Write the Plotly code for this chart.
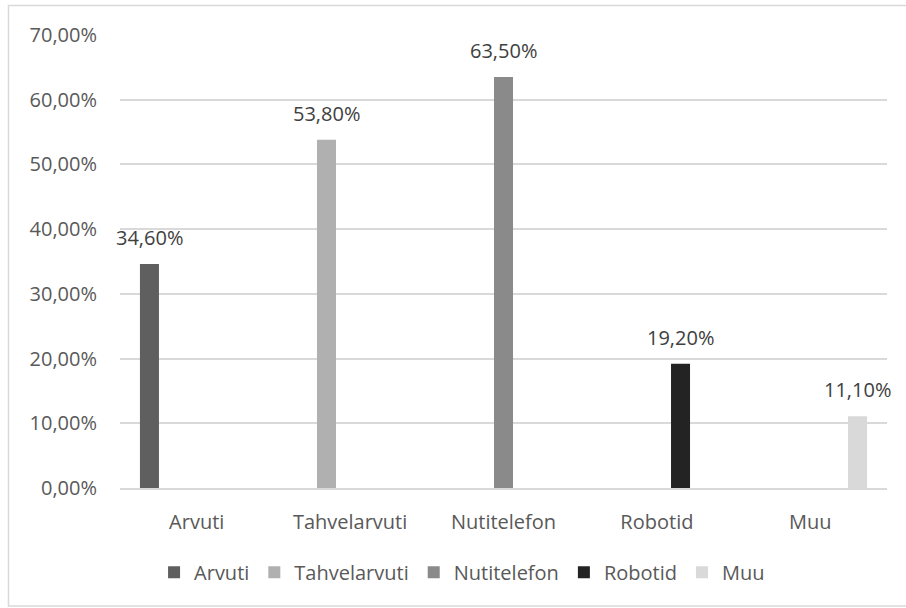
import plotly.graph_objects as go

# Survey shares per device type
categories = ["Arvuti", "Tahvelarvuti", "Nutitelefon", "Robotid", "Muu"]
values = [0.346, 0.538, 0.635, 0.192, 0.111]
colors = ["#5f5f5f", "#b0b0b0", "#8a8a8a", "#232323", "#d9d9d9"]
y_ticks = [0, 0.1, 0.2, 0.3, 0.4, 0.5, 0.6, 0.7]

FONT = "Open Sans"
FONT_SIZE = 20
TEXT_COLOR = "#595959"
BARGAP = 0.23
BARGROUPGAP = 0.195

n = len(categories)
positions = list(range(n))
slot = (1 - BARGAP) / n  # width of one series slot inside a category group

fig = go.Figure()
annotations = []
for i, (name, val, col) in enumerate(zip(categories, values, colors)):
    # each series only carries its own category, the other slots stay empty
    ys = [val if j == i else None for j in range(n)]
    fig.add_trace(go.Bar(
        name=name,
        x=positions,
        y=ys,
        marker=dict(color=col, line=dict(width=0)),
        hoverinfo="skip",
    ))
    # value label above the bar, centred on its slot
    annotations.append(dict(
        x=positions[i] + (i - (n - 1) / 2) * slot,
        y=val,
        xref="x", yref="y",
        text=f"{val * 100:.2f}%".replace(".", ","),
        showarrow=False,
        yanchor="bottom",
        yshift=11,
        font=dict(family=FONT, size=FONT_SIZE, color="#404040"),
    ))

fig.update_layout(
    width=906,
    height=608,
    margin=dict(l=120, r=19, t=35, b=120),
    paper_bgcolor="white",
    plot_bgcolor="white",
    barmode="group",
    bargap=BARGAP,
    bargroupgap=BARGROUPGAP,
    separators=", ",
    font=dict(family=FONT, size=FONT_SIZE, color=TEXT_COLOR),
    showlegend=True,
    annotations=annotations,
    legend=dict(
        orientation="h",
        xref="container",
        x=0.51,
        xanchor="center",
        yref="container",
        y=0.059,
        yanchor="middle",
        font=dict(family=FONT, size=FONT_SIZE, color=TEXT_COLOR),
        itemwidth=30,
        traceorder="normal",
    ),
    xaxis=dict(
        range=[-0.5, n - 0.5],
        tickvals=positions,
        ticktext=categories,
        showgrid=False,
        showline=True,
        linecolor="#d9d9d9",
        linewidth=1.5,
        ticks="",
        ticklabelstandoff=15,
        tickfont=dict(family=FONT, size=FONT_SIZE, color=TEXT_COLOR),
        fixedrange=True,
    ),
    yaxis=dict(
        range=[0, 0.7],
        tickvals=y_ticks,
        tickformat=".2%",
        showgrid=True,
        gridcolor="#d9d9d9",
        gridwidth=1.5,
        zeroline=False,
        showline=False,
        ticks="",
        ticklabelstandoff=22,
        tickfont=dict(family=FONT, size=FONT_SIZE, color=TEXT_COLOR),
        fixedrange=True,
    ),
    shapes=[dict(
        type="rect",
        xref="paper", yref="paper",
        x0=-0.1454, x1=1.04, y0=-0.2605, y1=1.0651,
        line=dict(color="#d9d9d9", width=1.5),
        fillcolor="rgba(0,0,0,0)",
        layer="below",
    )],
)

fig.write_html("out.html")
